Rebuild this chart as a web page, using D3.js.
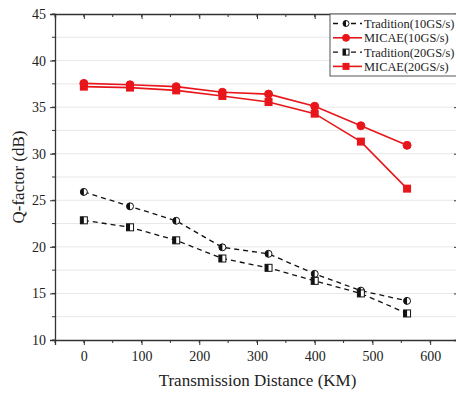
<!DOCTYPE html>
<html>
<head>
<meta charset="utf-8">
<script src="https://cdn.jsdelivr.net/npm/d3@7"></script>
<style>
  body { margin: 0; background: #fff; }
  svg text { font-family: 'Liberation Serif', 'DejaVu Serif', serif; fill: #222; }
</style>
</head>
<body>
<div id="chart"></div>
<script>
// distances (KM)
var distances = [0, 80, 160, 240, 320, 400, 480, 560];
// Q-factor values (dB)
var trad10 = [25.9, 24.35, 22.8, 19.95, 19.25, 17.1, 15.3, 14.2];
var micae10 = [37.55, 37.4, 37.2, 36.6, 36.4, 35.1, 33.0, 30.9];
var trad20 = [22.85, 22.1, 20.7, 18.75, 17.75, 16.35, 15.0, 12.85];
var micae20 = [37.2, 37.1, 36.8, 36.2, 35.55, 34.3, 31.3, 26.25];
var series_names = ['Tradition(10GS/s)', 'MICAE(10GS/s)', 'Tradition(20GS/s)', 'MICAE(20GS/s)'];
var x_ticks = [0, 100, 200, 300, 400, 500, 600];
var y_ticks = [10, 15, 20, 25, 30, 35, 40, 45];

var width = 456, height = 393;
var margin = {left: 55, top: 14, right: -3, bottom: 53};
var red = '#e8161b';

var svg = d3.select('#chart').append('svg')
  .attr('width', width)
  .attr('height', height);

var x = d3.scaleLinear().domain([-50, 650]).range([margin.left, width - margin.right]);
var y = d3.scaleLinear().domain([10, 45]).range([height - margin.bottom, margin.top]);

var series = [
  {name: series_names[0], values: trad10, shape: 'circle', half: true},
  {name: series_names[1], values: micae10, shape: 'circle', half: false},
  {name: series_names[2], values: trad20, shape: 'square', half: true},
  {name: series_names[3], values: micae20, shape: 'square', half: false}
];

// grid lines
var grid_vals = d3.range(12.5, 45, 2.5);
svg.append('g').selectAll('line')
  .data(grid_vals)
  .enter().append('line')
  .attr('x1', margin.left).attr('x2', width - margin.right)
  .attr('y1', d => y(d)).attr('y2', d => y(d))
  .attr('stroke', '#e8e8e8').attr('stroke-width', 1);

// axes
var minor_x = d3.range(-50, 651, 50);
var minor_y = d3.range(10, 45.1, 2.5);

var bottom = svg.append('g')
  .attr('transform', 'translate(0,' + y(10) + ')')
  .call(d3.axisBottom(x).tickValues(x_ticks).tickSize(5).tickPadding(6));
bottom.append('g').selectAll('line').data(minor_x).enter().append('line')
  .attr('x1', d => x(d)).attr('x2', d => x(d)).attr('y1', 0).attr('y2', 3)
  .attr('stroke', '#333');

var left = svg.append('g')
  .attr('transform', 'translate(' + margin.left + ',0)')
  .call(d3.axisLeft(y).tickValues(y_ticks).tickSize(5).tickPadding(4));
left.append('g').selectAll('line').data(minor_y).enter().append('line')
  .attr('y1', d => y(d)).attr('y2', d => y(d)).attr('x1', 0).attr('x2', -3)
  .attr('stroke', '#333');

var top_axis = svg.append('g')
  .attr('transform', 'translate(0,' + y(45) + ')')
  .call(d3.axisBottom(x).tickValues(x_ticks).tickSize(5).tickFormat(''));
top_axis.append('g').selectAll('line').data(minor_x).enter().append('line')
  .attr('x1', d => x(d)).attr('x2', d => x(d)).attr('y1', 0).attr('y2', 3)
  .attr('stroke', '#333');

var right_axis = svg.append('g')
  .attr('transform', 'translate(' + (width - margin.right) + ',0)')
  .call(d3.axisLeft(y).tickValues(y_ticks).tickSize(5).tickFormat(''));
right_axis.append('g').selectAll('line').data(minor_y).enter().append('line')
  .attr('y1', d => y(d)).attr('y2', d => y(d)).attr('x1', 0).attr('x2', -3)
  .attr('stroke', '#333');

svg.selectAll('.domain').attr('stroke', '#333').attr('stroke-width', 1.3);
svg.selectAll('.tick line').attr('stroke', '#333');
svg.selectAll('.tick text')
  .style('font-family', "'Liberation Serif', serif")
  .style('font-size', '14px')
  .attr('fill', '#333');

// axis titles
svg.append('text')
  .attr('x', (x(-50) + 456) / 2 + 2)
  .attr('y', 386)
  .attr('text-anchor', 'middle')
  .style('font-size', '17px')
  .text('Transmission Distance (KM)');

svg.append('text')
  .attr('transform', 'translate(24,' + ((y(10) + y(45)) / 2) + ') rotate(-90)')
  .attr('text-anchor', 'middle')
  .style('font-size', '17px')
  .text('Q-factor (dB)');

// marker drawing
function draw_marker(g, shape, half, color, sz) {
  if (shape === 'circle') {
    if (half) {
      g.append('circle').attr('r', sz).attr('fill', '#fff').attr('stroke', '#111').attr('stroke-width', 1);
      g.append('path')
        .attr('d', 'M0,' + (-sz) + ' A' + sz + ',' + sz + ' 0 0,0 0,' + sz + ' Z')
        .attr('fill', '#111');
    } else {
      g.append('circle').attr('r', sz).attr('fill', color).attr('stroke', color);
    }
  } else {
    if (half) {
      g.append('rect').attr('x', -sz).attr('y', -sz).attr('width', 2 * sz).attr('height', 2 * sz)
        .attr('fill', '#fff').attr('stroke', '#111').attr('stroke-width', 1);
      g.append('rect').attr('x', -sz).attr('y', -sz).attr('width', sz).attr('height', 2 * sz)
        .attr('fill', '#111');
    } else {
      g.append('rect').attr('x', -sz).attr('y', -sz).attr('width', 2 * sz).attr('height', 2 * sz)
        .attr('fill', color);
    }
  }
}

var line = d3.line()
  .x((d, i) => x(distances[i]))
  .y(d => y(d));

series.forEach(function(s) {
  var color = s.half ? '#111' : red;
  svg.append('path')
    .datum(s.values)
    .attr('d', line)
    .attr('fill', 'none')
    .attr('stroke', color)
    .attr('stroke-width', s.half ? 1.3 : 1.6)
    .attr('stroke-dasharray', s.half ? '5,4' : null);
  svg.append('g').selectAll('g')
    .data(s.values)
    .enter().append('g')
    .attr('transform', (d, i) => 'translate(' + x(distances[i]) + ',' + y(d) + ')')
    .each(function() {
      draw_marker(d3.select(this), s.shape, s.half, color, s.half ? 3.5 : 4);
    });
});

// legend
var legend = svg.append('g').attr('transform', 'translate(330,14)');
legend.append('rect')
  .attr('x', 0).attr('y', 0).attr('width', 140).attr('height', 62)
  .attr('fill', '#fff').attr('stroke', '#555').attr('stroke-width', 1);

series.forEach(function(s, i) {
  var color = s.half ? '#111' : red;
  var row = legend.append('g').attr('transform', 'translate(0,' + (9.5 + i * 14.3) + ')');
  row.append('line')
    .attr('x1', 3).attr('x2', 32).attr('y1', 0).attr('y2', 0)
    .attr('stroke', color)
    .attr('stroke-width', s.half ? 1.3 : 1.6)
    .attr('stroke-dasharray', s.half ? '5,4' : null);
  if (s.half) {
    row.append('rect').attr('x', 11).attr('y', -4).attr('width', 10).attr('height', 8).attr('fill', '#fff');
  }
  var m = row.append('g').attr('transform', 'translate(16,0)');
  draw_marker(m, s.shape, s.half, color, s.half ? 3 : 3.5);
  row.append('text')
    .attr('x', 34).attr('y', 4.5)
    .style('font-size', '12.4px')
    .attr('fill', '#222')
    .text(s.name);
});
</script>
</body>
</html>
